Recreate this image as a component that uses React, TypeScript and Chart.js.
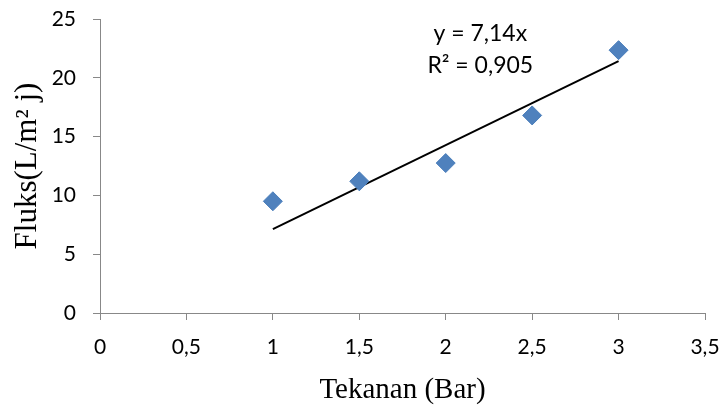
import React, { useEffect, useRef } from "react";
import { Chart, registerables } from "chart.js";

Chart.register(...registerables);

// Data
const pressure = [1, 1.5, 2, 2.5, 3];
const flux = [9.5, 11.2, 12.75, 16.8, 22.35];

// Linear trendline (y = 7,14x) endpoints
const trendX = [1, 3];
const trendY = [7.14, 21.42];

const trendText = ["y = 7,14x", "R² = 0,905"];
const trendTextX = 2.2;
const trendTextY = [23.8, 21.0];

const xTitle = "Tekanan (Bar)";
const yTitle = "Fluks(L/m² j)";

const trendLabelPlugin = {
  id: "trendLabel",
  afterDatasetsDraw(chart: any) {
    const { ctx, scales } = chart;
    ctx.save();
    ctx.fillStyle = "#000";
    ctx.font = "23px Lato";
    ctx.textAlign = "center";
    ctx.textBaseline = "middle";
    trendText.forEach((t, i) => {
      ctx.fillText(t, scales.x.getPixelForValue(trendTextX), scales.y.getPixelForValue(trendTextY[i]));
    });
    ctx.restore();
  },
};

export default function App() {
  const ref = useRef<HTMLCanvasElement>(null);
  useEffect(() => {
    if (!ref.current) return;
    const fmt = (v: any) => String(v).replace(".", ",");
    const chart = new Chart(ref.current, {
      type: "scatter",
      data: {
        datasets: [
          {
            label: "Fluks",
            data: pressure.map((x, i) => ({ x, y: flux[i] })),
            pointStyle: "rectRot",
            pointRadius: 9.5,
            backgroundColor: "#4F81BD",
            borderColor: "#4A7EBB",
            borderWidth: 1,
            order: 1,
          },
          {
            type: "line",
            label: "Trend",
            data: trendX.map((x, i) => ({ x, y: trendY[i] })),
            borderColor: "#000",
            borderWidth: 2,
            pointRadius: 0,
            fill: false,
            order: 2,
          } as any,
        ],
      },
      options: {
        animation: false,
        responsive: false,
        layout: { autoPadding: false, padding: { top: 19, right: 16, left: 0, bottom: 0 } },
        plugins: { legend: { display: false }, tooltip: { enabled: false } },
        scales: {
          x: {
            type: "linear",
            min: 0,
            max: 3.5,
            grid: { display: true, drawOnChartArea: false, drawTicks: true, tickLength: 7, color: "#888888" },
            border: { color: "#888888" },
            ticks: { stepSize: 0.5, padding: 15, color: "#000", font: { family: "Lato", size: 21 }, callback: fmt },
            title: {
              display: true,
              text: xTitle,
              color: "#000",
              font: { family: "Liberation Serif", size: 29 },
              padding: { top: 0, bottom: 1 },
            },
            afterFit: (s: any) => {
              s.height = 96;
              s.paddingLeft = 0;
              s.paddingRight = 0;
            },
          },
          y: {
            type: "linear",
            min: 0,
            max: 25,
            grid: { display: true, drawOnChartArea: false, drawTicks: true, tickLength: 7, color: "#888888" },
            border: { color: "#888888" },
            ticks: { stepSize: 5, padding: 17, color: "#000", font: { family: "Lato", size: 21 }, callback: fmt },
            title: {
              display: true,
              text: yTitle,
              color: "#000",
              font: { family: "Liberation Serif", size: 31 },
              padding: { top: 9, bottom: 0 },
            },
            afterFit: (s: any) => {
              s.width = 100;
              s.paddingTop = 0;
              s.paddingBottom = 0;
            },
          },
        },
      },
      plugins: [trendLabelPlugin],
    });
    return () => chart.destroy();
  }, []);
  return (
    <div style={{ position: "fixed", left: 0, top: 0, width: 721, height: 409, background: "#fff" }}>
      <canvas ref={ref} width={721} height={409} style={{ display: "block" }} />
    </div>
  );
}
